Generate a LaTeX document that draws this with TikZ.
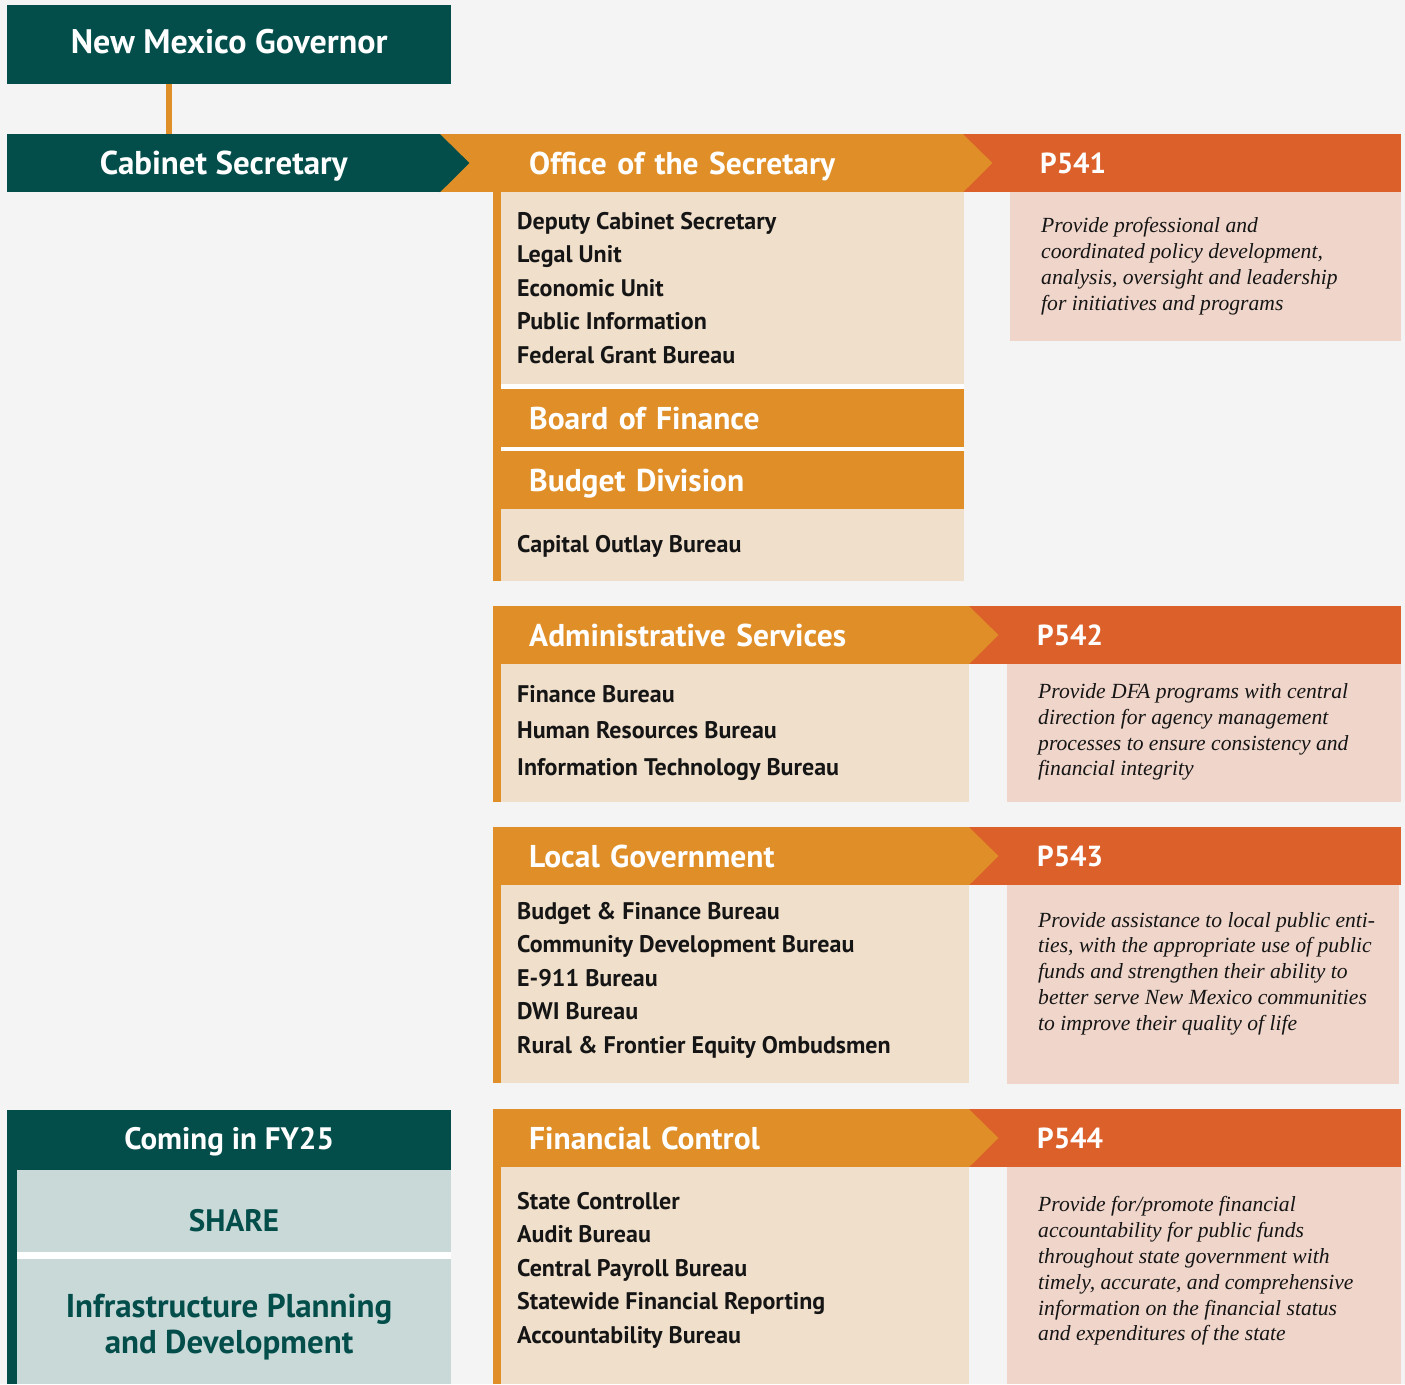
\documentclass[tikz,border=0pt]{standalone}
\usepackage{fontspec}
\setmainfont{PT Sans}
\newfontfamily\descfont{Liberation Serif}

\definecolor{dfateal}{HTML}{034E4B}
\definecolor{dfaorange}{HTML}{E08F28}
\definecolor{dfared}{HTML}{DC602A}
\definecolor{dfabeige}{HTML}{F0DFCA}
\definecolor{dfapink}{HTML}{EFD5CA}
\definecolor{dfablue}{HTML}{C9D9D8}
\definecolor{dfabg}{HTML}{F4F4F4}
\definecolor{dfaink}{HTML}{151515}

\tikzset{
  box/.style={rectangle, inner sep=0pt, anchor=north west, draw=none},
  band/.style={box, minimum height=58pt, text=white, align=left,
    font=\bfseries\fontsize{31.5}{38}\selectfont, text height=22pt, text depth=0pt},
  tealband/.style={band, fill=dfateal, align=center},
  orangeband/.style={band, fill=dfaorange},
  redband/.style={band, fill=dfared, font=\bfseries\fontsize{29}{35}\selectfont, text height=20pt},
  beigebody/.style={box, fill=dfabeige},
  pinkbody/.style={box, fill=dfapink},
  stripe/.style={box, fill=dfaorange, minimum width=8pt},
  items/.style={anchor=west, align=left, inner sep=0pt, text=dfaink,
    font=\bfseries\fontsize{24}{33.5}\selectfont},
  desc/.style={anchor=west, align=left, inner sep=0pt, text=dfaink,
    font=\descfont\itshape\fontsize{21.6}{25.8}\selectfont},
  link/.style={draw=dfaorange, line width=6pt}
}

\begin{document}
\begin{tikzpicture}[x=1pt, y=1pt]

    \fill[dfabg] (0,0) rectangle (1405,-1384);
    \useasboundingbox (0,0) rectangle (1405,-1384);

    % governor and secretary
    \node[tealband, minimum width=444pt, minimum height=79pt, font=\bfseries\fontsize{34}{40}\selectfont, text height=24pt, text depth=6pt] (gov) at (7,-5) {New Mexico Governor};
    \node[redband, inner xsep=77pt, text width=284pt] (p541) at (963,-134) {P541};
    \node[orangeband, inner xsep=89pt, text width=345pt] (office) at (440,-134) {Office of the Secretary};
    \fill[dfaorange] ([xshift=-0.6pt]office.north east) -- ++(29.6,-29) -- ([xshift=-0.6pt]office.south east) -- cycle;
    \node[tealband, minimum width=433pt, font=\bfseries\fontsize{33}{39}\selectfont, text height=23pt] (cab) at (7,-134) {Cabinet Secretary};
    \fill[dfateal] ([xshift=-0.6pt]cab.north east) -- ++(29.6,-29) -- ([xshift=-0.6pt]cab.south east) -- cycle;

    \coordinate (linkx) at (169,0);
    \draw[link] (gov.south -| linkx) -- (cab.north -| linkx);

    % office of the secretary
    \fill[white] (501,-384) rectangle (964,-451);
    \node[stripe, minimum height=389pt] (offstripe) at (493,-192) {};
    \node[beigebody, minimum width=463pt, minimum height=192pt] (offbody) at (501,-192) {};
    \node[orangeband, inner xsep=28pt, text width=407pt] (bof) at (501,-389) {Board of Finance};
    \node[orangeband, inner xsep=28pt, text width=407pt] (budget) at (501,-451) {Budget Division};
    \node[beigebody, minimum width=463pt, minimum height=72pt] (capbody) at (501,-509) {};
    \node[pinkbody, minimum width=391pt, minimum height=149pt] (p541body) at (1010,-192) {};

    \node[items] (offitems) at (517,-288) {Deputy Cabinet Secretary\\Legal Unit\\Economic Unit\\Public Information\\Federal Grant Bureau};
    \node[items] (capitems) at (517,-546) {Capital Outlay Bureau};
    \node[desc] (p541desc) at (1041,-266) {Provide professional and\\coordinated policy development,\\analysis, oversight and leadership\\for initiatives and programs};

    % administrative services
    \node[redband, inner xsep=68pt, text width=296pt] (p542) at (969,-606) {P542};
    \node[orangeband, inner xsep=36pt, text width=404pt] (admin) at (493,-606) {Administrative Services};
    \fill[dfaorange] ([xshift=-0.6pt]admin.north east) -- ++(29.6,-29) -- ([xshift=-0.6pt]admin.south east) -- cycle;
    \node[stripe, minimum height=138pt] (admstripe) at (493,-664) {};
    \node[beigebody, minimum width=468pt, minimum height=138pt] (admbody) at (501,-664) {};
    \node[pinkbody, minimum width=394pt, minimum height=138pt] (p542body) at (1007,-664) {};
    \node[items, font=\bfseries\fontsize{24}{36.5}\selectfont] (admitems) at (517,-733) {Finance Bureau\\Human Resources Bureau\\Information Technology Bureau};
    \node[desc] (p542desc) at (1038,-732) {Provide DFA programs with central\\direction for agency management\\processes to ensure consistency and\\financial integrity};

    % local government
    \node[redband, inner xsep=68pt, text width=296pt] (p543) at (969,-827) {P543};
    \node[orangeband, inner xsep=36pt, text width=404pt] (local) at (493,-827) {Local Government};
    \fill[dfaorange] ([xshift=-0.6pt]local.north east) -- ++(29.6,-29) -- ([xshift=-0.6pt]local.south east) -- cycle;
    \node[stripe, minimum height=198pt] (locstripe) at (493,-885) {};
    \node[beigebody, minimum width=468pt, minimum height=198pt] (locbody) at (501,-885) {};
    \node[pinkbody, minimum width=392pt, minimum height=199pt] (p543body) at (1007,-885) {};
    \node[items] (locitems) at (517,-980) {Budget \& Finance Bureau\\Community Development Bureau\\E-911 Bureau\\DWI Bureau\\Rural \& Frontier Equity Ombudsmen};
    \node[desc] (p543desc) at (1038,-973.5) {Provide assistance to local public enti-\\ties, with the appropriate use of public\\funds and strengthen their ability to\\better serve New Mexico communities\\to improve their quality of life};

    % financial control
    \node[redband, inner xsep=68pt, text width=296pt] (p544) at (969,-1109) {P544};
    \node[orangeband, inner xsep=36pt, text width=404pt] (fincon) at (493,-1109) {Financial Control};
    \fill[dfaorange] ([xshift=-0.6pt]fincon.north east) -- ++(29.6,-29) -- ([xshift=-0.6pt]fincon.south east) -- cycle;
    \node[stripe, minimum height=217pt] (finstripe) at (493,-1167) {};
    \node[beigebody, minimum width=468pt, minimum height=217pt] (finbody) at (501,-1167) {};
    \node[pinkbody, minimum width=394pt, minimum height=217pt] (p544body) at (1007,-1167) {};
    \node[items] (finitems) at (517,-1270) {State Controller\\Audit Bureau\\Central Payroll Bureau\\Statewide Financial Reporting\\Accountability Bureau};
    \node[desc] (p544desc) at (1038,-1271) {Provide for/promote financial\\accountability for public funds\\throughout state government with\\timely, accurate, and comprehensive\\information on the financial status\\and expenditures of the state};

    % coming in fy25
    \node[tealband, minimum width=444pt, minimum height=60pt, font=\bfseries\fontsize{31}{37}\selectfont, text depth=4pt] (fy25) at (7,-1110) {Coming in FY25};
    \node[box, fill=dfateal, minimum width=10pt, minimum height=214pt] (fystripe) at (7,-1170) {};
    \fill[white] (17,-1252) rectangle (451,-1259);
    \node[box, fill=dfablue, minimum width=434pt, minimum height=82pt] (sharebody) at (17,-1170) {};
    \node[box, fill=dfablue, minimum width=434pt, minimum height=125pt] (ipdbody) at (17,-1259) {};
    \node[text=dfateal, font=\bfseries\fontsize{31}{37}\selectfont] (share) at (234,-1221) {SHARE};
    \node[text=dfateal, align=center, font=\bfseries\fontsize{33}{36}\selectfont] (ipd) at (229,-1327) {Infrastructure Planning\\and Development};

\end{tikzpicture}
\end{document}
